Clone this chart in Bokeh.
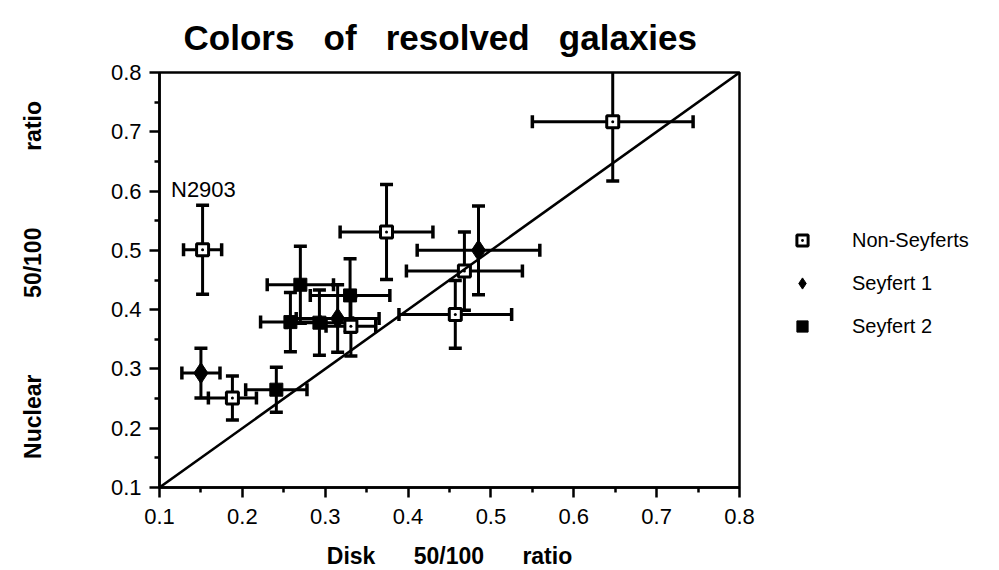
import math
from bokeh.plotting import figure
from bokeh.models import FixedTicker, Legend, LegendItem, Slope
from bokeh.core.properties import value
from bokeh.embed import file_html
from bokeh.resources import INLINE

# ---- data ----
non_x = [0.647, 0.152, 0.374, 0.468, 0.457, 0.188, 0.331]
non_y = [0.717, 0.501, 0.531, 0.465, 0.392, 0.251, 0.372]
non_xerr = [0.097, 0.023, 0.056, 0.070, 0.068, 0.029, 0.030]
non_yerr = [0.100, 0.075, 0.080, 0.066, 0.057, 0.037, 0.050]

sy1_x = [0.150, 0.485, 0.315]
sy1_y = [0.293, 0.500, 0.385]
sy1_xerr = [0.023, 0.074, 0.050]
sy1_yerr = [0.042, 0.075, 0.057]

sy2_x = [0.241, 0.270, 0.258, 0.293, 0.330]
sy2_y = [0.265, 0.442, 0.379, 0.378, 0.424]
sy2_xerr = [0.037, 0.040, 0.036, 0.040, 0.048]
sy2_yerr = [0.038, 0.065, 0.050, 0.055, 0.062]

x_ticks = [0.1, 0.2, 0.3, 0.4, 0.5, 0.6, 0.7, 0.8]
y_ticks = [0.1, 0.2, 0.3, 0.4, 0.5, 0.6, 0.7, 0.8]
minor = [0.15, 0.25, 0.35, 0.45, 0.55, 0.65, 0.75]

label_text = "N2903"
label_pos = (0.153, 0.603)

FONT = "Liberation Sans"
NB = "\u00a0"

p = figure(frame_width=580, frame_height=415, x_range=(0.1, 0.8), y_range=(0.1, 0.8),
           output_backend="svg", toolbar_location=None,
           min_border_left=159, min_border_right=240, min_border_top=72,
           min_border_bottom=80)
p.grid.visible = False
p.outline_line_color = "black"
p.outline_line_width = 2.5

p.title.text = ("Colors" + NB * 3 + "of" + NB * 3 + "resolved" + NB * 3 + "galaxies")
p.title.text_font = FONT
p.title.text_font_size = "35px"
p.title.text_font_style = "bold"
p.title.text_color = "black"
p.title.align = "left"
p.title.vertical_align = "top"
p.title.offset = 24
p.title.standoff = 27

for ax, ticks in ((p.xaxis[0], x_ticks), (p.yaxis[0], y_ticks)):
    ax.ticker = FixedTicker(ticks=ticks, minor_ticks=minor)
    ax.axis_line_width = 2.5
    ax.major_tick_line_width = 2.5
    ax.minor_tick_line_width = 2.5
    ax.major_tick_out = 10
    ax.major_tick_in = 0
    ax.minor_tick_out = 5
    ax.minor_tick_in = 0
    ax.major_label_text_font = FONT
    ax.major_label_text_font_size = "22px"
    ax.major_label_text_color = "black"
    ax.axis_label_text_font = FONT
    ax.axis_label_text_font_size = "23px"
    ax.axis_label_text_font_style = "bold"
    ax.axis_label_text_color = "black"

p.xaxis.axis_label = "Disk" + NB * 6 + "50/100" + NB * 6 + "ratio"
p.yaxis.axis_label = "Nuclear" + NB * 12 + "50/100" + NB * 12 + "ratio"
p.xaxis.major_label_standoff = 11
p.yaxis.major_label_standoff = 8
p.xaxis.axis_label_standoff = 16
p.yaxis.axis_label_standoff = 62

# diagonal y = x
p.add_layout(Slope(gradient=1, y_intercept=0, line_color="black", line_width=2.5))


def errbars(xs, ys, xe, ye):
    p.segment(x0=[x - e for x, e in zip(xs, xe)], y0=ys,
              x1=[x + e for x, e in zip(xs, xe)], y1=ys,
              line_color="black", line_width=3)
    p.segment(x0=xs, y0=[y - e for y, e in zip(ys, ye)],
              x1=xs, y1=[y + e for y, e in zip(ys, ye)],
              line_color="black", line_width=3)
    capx = [x - e for x, e in zip(xs, xe)] + [x + e for x, e in zip(xs, xe)]
    capxy = list(ys) + list(ys)
    p.scatter(capx, capxy, marker="dash", angle=math.pi / 2, size=13,
              line_color="black", line_width=3.5)
    capy = [y - e for y, e in zip(ys, ye)] + [y + e for y, e in zip(ys, ye)]
    capyx = list(xs) + list(xs)
    p.scatter(capyx, capy, marker="dash", size=13,
              line_color="black", line_width=3.5)


errbars(non_x, non_y, non_xerr, non_yerr)
errbars(sy1_x, sy1_y, sy1_xerr, sy1_yerr)
errbars(sy2_x, sy2_y, sy2_xerr, sy2_yerr)

r_non = p.scatter(non_x, non_y, marker="square_dot", size=12, fill_color="white",
                  line_color="black", line_width=3)
r_s1 = p.scatter(sy1_x, sy1_y, marker="diamond", size=21, fill_color="black",
                 line_color="black")
r_s2 = p.scatter(sy2_x, sy2_y, marker="square", size=13, fill_color="black",
                 line_color="black")

p.text(x=[label_pos[0]], y=[label_pos[1]], text=[label_text],
       text_font=value(FONT), text_font_size="22px",
       text_align="center", text_baseline="middle", text_color="black")

legend = Legend(items=[LegendItem(label="Non-Seyferts", renderers=[r_non]),
                       LegendItem(label="Seyfert 1", renderers=[r_s1]),
                       LegendItem(label="Seyfert 2", renderers=[r_s2])],
                location=(49, 147))
legend.border_line_color = None
legend.background_fill_alpha = 0
legend.label_text_font = FONT
legend.label_text_font_size = "20px"
legend.label_text_color = "black"
legend.label_standoff = 36
legend.glyph_width = 28
legend.glyph_height = 28
legend.label_height = 22
legend.spacing = 15
legend.padding = 0
legend.margin = 0
p.add_layout(legend, "right")

open("out.html", "w").write(file_html(p, INLINE))
